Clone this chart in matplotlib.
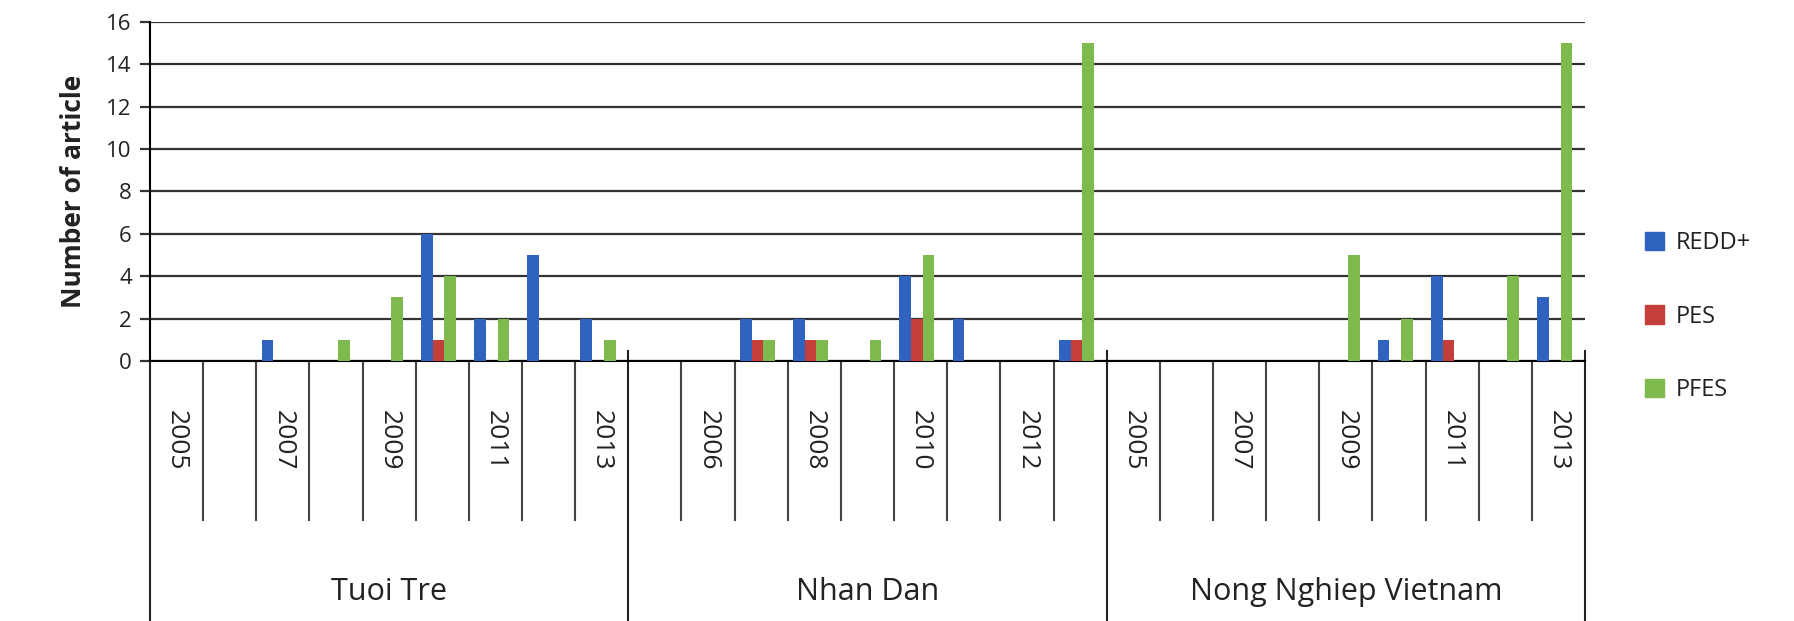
import numpy as np
import matplotlib
matplotlib.use("Agg")
from matplotlib import pyplot as plt
from matplotlib.patches import Patch
import matplotlib.transforms as mtransforms

plt.rcParams['font.family'] = ['Open Sans', 'DejaVu Sans']

# data: three newspapers, 2005-2013 each
papers = ['Tuoi Tre', 'Nhan Dan', 'Nong Nghiep Vietnam']
years = [2005, 2006, 2007, 2008, 2009, 2010, 2011, 2012, 2013]
series = ['REDD+', 'PES', 'PFES']

redd_tuoitre = [0, 0, 1, 0, 0, 6, 2, 5, 2]
pes_tuoitre = [0, 0, 0, 0, 0, 1, 0, 0, 0]
pfes_tuoitre = [0, 0, 0, 1, 3, 4, 2, 0, 1]

redd_nhandan = [0, 0, 2, 2, 0, 4, 2, 0, 1]
pes_nhandan = [0, 0, 1, 1, 0, 2, 0, 0, 1]
pfes_nhandan = [0, 0, 1, 1, 1, 5, 0, 0, 15]

redd_nongnghiep = [0, 0, 0, 0, 0, 1, 4, 0, 3]
pes_nongnghiep = [0, 0, 0, 0, 0, 0, 1, 0, 0]
pfes_nongnghiep = [0, 0, 0, 0, 5, 2, 0, 4, 15]

colors = ['#3063BF', '#C43E3A', '#7FBA4E']

values = [
    redd_tuoitre + redd_nhandan + redd_nongnghiep,
    pes_tuoitre + pes_nhandan + pes_nongnghiep,
    pfes_tuoitre + pfes_nhandan + pfes_nongnghiep,
]
n_years = len(years)
n_cat = n_years * len(papers)
cat_years = years * len(papers)

fig = plt.figure(figsize=(17.94, 6.21), dpi=100)
ax = fig.add_axes([0.0836, 0.4187, 0.7999, 0.5459])

x = np.arange(n_cat) + 0.5
w = 0.22
shift = -0.07
for j, (name, vals) in enumerate(zip(series, values)):
    ax.bar(x + shift + (j - 1) * w, vals, width=w, color=colors[j], label=name, zorder=3)

ax.set_xlim(0, n_cat)
ax.set_ylim(0, 16)
ax.set_yticks(np.arange(0, 17, 2))
ax.set_xticks([])
ax.yaxis.grid(True, color='#333333', linewidth=1.6, zorder=1)
ax.tick_params(axis='y', length=7, width=1.6, color='#333333', labelsize=16,
               labelcolor='#222222', pad=6)
for s in ['top', 'right']:
    ax.spines[s].set_visible(False)
ax.spines['bottom'].set_linewidth(1.5)
ax.spines['left'].set_linewidth(1.5)
ax.set_ylabel('Number of article', fontsize=19, fontweight='bold', color='#222222', labelpad=14)

# category axis drawn below the plot (multi-level labels)
trans = mtransforms.blended_transform_factory(ax.transData, ax.transAxes)
tick_bottom = -0.469
group_bottom = -0.767
for k in range(1, n_cat):
    if k % n_years == 0:
        continue
    ax.plot([k, k], [0, tick_bottom], transform=trans, color='#444444', lw=1.5, clip_on=False)
for k in range(0, n_cat + 1, n_years):
    top = 0 if k == 0 else 0.03
    ax.plot([k, k], [top, group_bottom], transform=trans, color='#222222', lw=1.5, clip_on=False)

for i, yr in enumerate(cat_years):
    if i % 2 == 0:
        ax.text(i + 0.5, -0.233, str(yr), transform=trans, rotation=270, ha='center',
                va='center', fontsize=19, color='#222222')

for g, name in enumerate(papers):
    ax.text(g * n_years + n_years / 2, -0.681, name, transform=trans, ha='center',
            va='center', fontsize=22, color='#222222')

handles = [Patch(color=c, label=s) for c, s in zip(colors, series)]
fig.legend(handles=handles, loc='center left', bbox_to_anchor=(0.905, 0.49), frameon=False,
           fontsize=17, handlelength=0.8, handleheight=0.8, labelspacing=2.1,
           handletextpad=0.5, labelcolor='#222222')

fig.savefig('out.png', dpi=100)
